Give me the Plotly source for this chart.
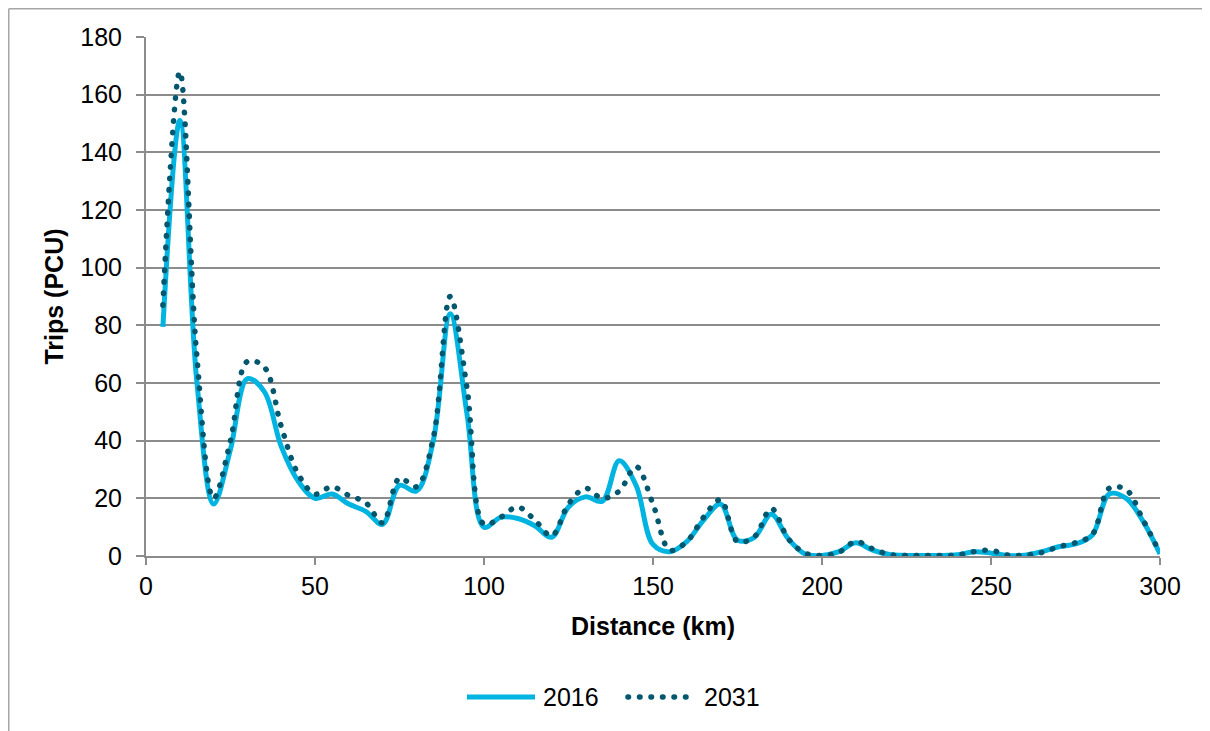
import plotly.graph_objects as go

distance_km = [5, 10, 15, 20, 25, 30, 35, 40, 45, 50, 55, 60, 65, 70, 75, 80, 85, 90, 95, 100,
               105, 110, 115, 120, 125, 130, 135, 140, 145, 150, 155, 160, 165, 170, 175, 180, 185, 190, 195, 200,
               205, 210, 215, 220, 225, 230, 235, 240, 245, 250, 255, 260, 265, 270, 275, 280, 285, 290, 295, 300]

trips_2016 = [79.5, 151, 61, 18, 37, 61.5, 57, 38, 26, 20, 21.5, 18, 15.5, 11, 24.5, 22.5, 40, 84, 49, 10,
              13.5, 13, 10.5, 6.5, 17, 20.5, 19, 33, 24.5, 4, 1.5, 5, 12.5, 18, 5.5, 6.5, 14.5, 6, 0.7, 0.2,
              1.5, 4.6, 2, 0.5, 0.2, 0.2, 0.2, 0.4, 1.5, 1, 0.2, 0.3, 1.5, 3.2, 4.2, 7.3, 21.5, 20, 12, 0.7]

trips_2031 = [87, 168, 70, 20, 40, 67.5, 65.5, 45, 28.5, 21.5, 24, 21, 18.5, 11.5, 27, 24, 41, 90, 58, 11,
              13.5, 17, 12.5, 7, 18, 23.5, 20, 22.5, 31, 18, 2, 5, 13.5, 19.5, 5, 6.7, 16.5, 6, 1, 0.2,
              1.3, 5, 2.5, 0.5, 0.2, 0.2, 0.2, 0.3, 1.5, 2, 0.3, 0.3, 1.2, 3.2, 4.6, 7.5, 23.5, 23, 12.5, 1]

y_ticks = [0, 20, 40, 60, 80, 100, 120, 140, 160, 180]
x_ticks = [0, 50, 100, 150, 200, 250, 300]

C2016 = "#00B4E1"
C2031 = "#02566D"
GRID = "#8C8C8C"
FRAME = "#A6A6A6"
FONT = "Liberation Sans, Arial, sans-serif"
DOT = "0.5px,11px"

# The page body has an 8px margin, so the figure is offset by 8px.
OFF = 8
W, H = 1210 - OFF, 731 - OFF
# plot area in page pixels: x 146..1160, y 37..556
L, T = 146 - OFF, 37 - OFF
R = W - (1160 - OFF)
B = H - (556 - OFF)
PW, PH = W - L - R, H - T - B


def px_x(p):  # page pixel -> paper x
    return (p - OFF - L) / PW


def px_y(p):  # page pixel -> paper y
    return ((556 - OFF) - (p - OFF)) / PH


fig = go.Figure()
fig.add_trace(go.Scatter(x=distance_km, y=trips_2016, name="2016", mode="lines",
                         line=dict(color=C2016, width=5, shape="spline", smoothing=1),
                         showlegend=False))
fig.add_trace(go.Scatter(x=distance_km, y=trips_2031, name="2031", mode="lines",
                         line=dict(color=C2031, width=5.5, shape="spline", smoothing=1, dash=DOT),
                         showlegend=False))

shapes = [
    # outer frame (left and top edges)
    dict(type="line", xref="paper", yref="paper", x0=px_x(OFF + 0.75), x1=px_x(OFF + 0.75),
         y0=px_y(OFF + 0.75), y1=px_y(735), line=dict(color=FRAME, width=1.5)),
    dict(type="line", xref="paper", yref="paper", x0=px_x(OFF + 0.75), x1=px_x(1215),
         y0=px_y(OFF + 0.75), y1=px_y(OFF + 0.75), line=dict(color=FRAME, width=1.5)),
    # legend symbols
    dict(type="line", xref="paper", yref="paper", x0=px_x(467), x1=px_x(535), y0=px_y(697), y1=px_y(697),
         line=dict(color=C2016, width=5)),
    dict(type="line", xref="paper", yref="paper", x0=px_x(628), x1=px_x(692), y0=px_y(697), y1=px_y(697),
         line=dict(color=C2031, width=5.5, dash=DOT)),
]

annotations = [
    dict(text="2016", xref="paper", yref="paper", x=px_x(541), y=px_y(697), xanchor="left", yanchor="middle",
         showarrow=False, font=dict(family=FONT, size=25, color="#000000")),
    dict(text="2031", xref="paper", yref="paper", x=px_x(702), y=px_y(697), xanchor="left", yanchor="middle",
         showarrow=False, font=dict(family=FONT, size=25, color="#000000")),
]

fig.update_layout(
    width=W, height=H,
    margin=dict(l=L, r=R, t=T, b=B, pad=0),
    paper_bgcolor="white", plot_bgcolor="white",
    font=dict(family=FONT, size=25, color="#000000"),
    shapes=shapes,
    annotations=annotations,
    xaxis=dict(range=[0, 300], tickvals=x_ticks, ticktext=[str(v) for v in x_ticks],
               showgrid=False, zeroline=False, showline=True, linecolor=GRID, linewidth=2,
               ticks="outside", ticklen=7, tickwidth=1.5, tickcolor=GRID,
               tickfont=dict(family=FONT, size=25),
               title=dict(text="<b>Distance (km)</b>", font=dict(family=FONT, size=25), standoff=18)),
    yaxis=dict(range=[0, 180], tickvals=y_ticks, ticktext=[str(v) for v in y_ticks],
               showgrid=True, gridcolor=GRID, gridwidth=1.5, zeroline=False,
               showline=True, linecolor=GRID, linewidth=2,
               ticks="outside", ticklen=8, tickwidth=1.5, tickcolor=GRID, ticklabelstandoff=9,
               tickfont=dict(family=FONT, size=25),
               title=dict(text="<b>Trips (PCU)</b>", font=dict(family=FONT, size=25), standoff=10)),
)

# Round line caps turn the short dashes into round dots, like the reference.
post = """
var gd = document.getElementById('{plot_id}');
function roundDots() {
  gd.querySelectorAll('path').forEach(function (p) {
    var d = p.style.strokeDasharray;
    if (d && d !== 'none' && d !== '') { p.style.strokeLinecap = 'round'; }
  });
}
roundDots();
gd.on('plotly_afterplot', roundDots);
"""

fig.write_html("out.html", post_script=post)
